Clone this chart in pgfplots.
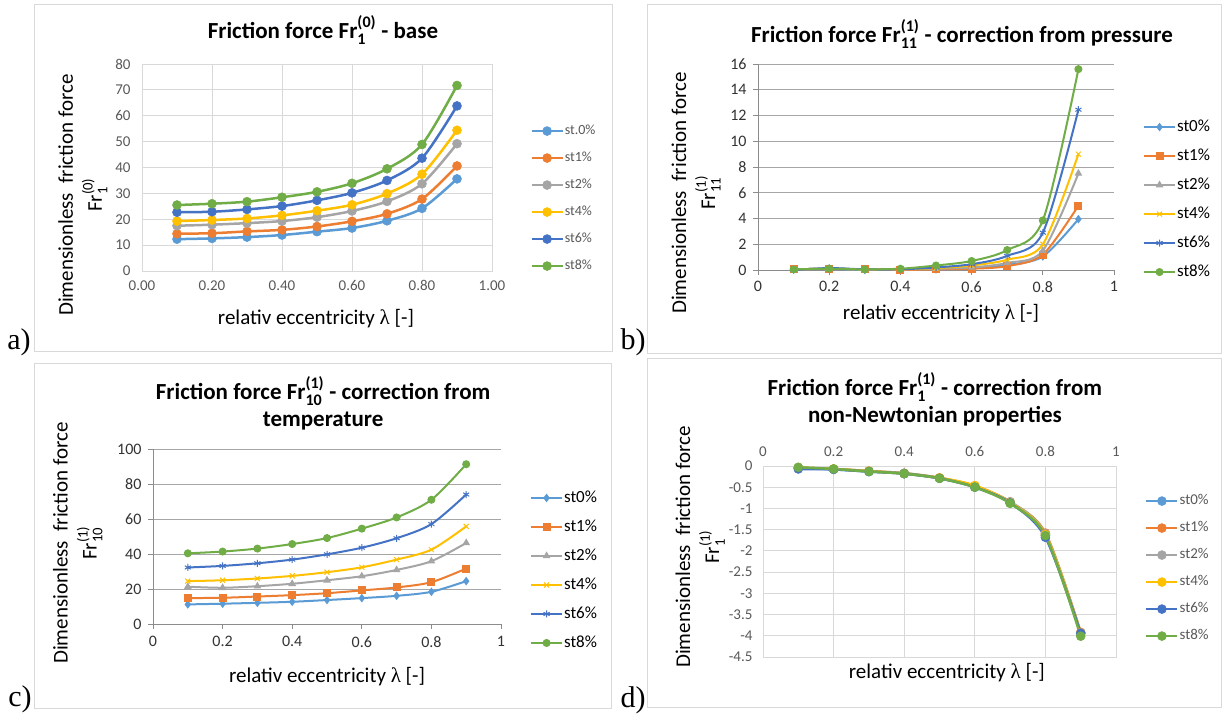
\documentclass[border=0pt]{standalone}
\usepackage{fontspec}
\setmainfont{Carlito}
\newfontfamily\serif{Liberation Serif}
\usepackage{amsmath}
\usepackage{pgfplots}
\pgfplotsset{compat=1.18}

\definecolor{sA}{HTML}{5B9BD5}
\definecolor{sB}{HTML}{ED7D31}
\definecolor{sC}{HTML}{A5A5A5}
\definecolor{sD}{HTML}{FFC000}
\definecolor{sE}{HTML}{4472C4}
\definecolor{sF}{HTML}{70AD47}
\definecolor{tickgray}{HTML}{595959}
\definecolor{gridgray}{HTML}{D9D9D9}

\newcommand{\lam}{{\serif λ}}
\newcommand{\Fr}[2]{Fr$_{\text{#1}}^{\text{#2}}$}

\pgfplotsset{
  panel/.style={
    scale only axis, xmin=0, xmax=1, xtick={0,0.2,...,1},
    /pgf/number format/assume math mode=true,
    tick label style={font=\fontsize{15}{15}\selectfont},
    label style={font=\fontsize{21}{29}\selectfont, align=center},
    title style={font=\bfseries\fontsize{23}{27}\selectfont, align=center, anchor=center},
    xlabel style={anchor=center},
    ylabel style={anchor=center},
    legend cell align=left,
    legend style={draw=none, fill=none, inner sep=0pt, anchor=west,
      font=\fontsize{14}{14}\selectfont,
      nodes={inner sep=1pt, text height=10pt, text depth=3pt}},
    legend image code/.code={\draw[mark repeat=2,mark phase=2,##1] plot coordinates {(0pt,0pt)(15.5pt,0pt)(31pt,0pt)};},
    every axis plot/.append style={line width=2.5pt, smooth},
  },
  boxgrid/.style={
    grid=major, grid style={draw=gridgray, line width=1pt},
    axis line style={draw=gridgray, line width=1pt},
    major tick length=0pt,
    tick label style={color=tickgray},
    legend style={text=tickgray},
  },
  linegrid/.style={
    ymajorgrids, grid style={draw=black!35, line width=0.8pt},
    axis x line*=bottom, axis y line*=left,
    axis line style={-, draw=black!45, line width=0.8pt},
    tick align=outside, major tick length=5pt,
    tick style={draw=black!45, line width=0.8pt},
    tick label style={color=black!80, font=\fontsize{16}{16}\selectfont},
    legend style={font=\fontsize{17}{17}\selectfont, nodes={text height=12pt, text depth=3pt}},
  },
  dot/.style={color=#1, mark=*, mark size=4.5pt, mark options={solid, line width=0.5pt}},
  mk/.style 2 args={color=#1, mark=#2, mark size=3.5pt, mark options={solid, line width=1pt}},
}

\begin{document}
\begin{tikzpicture}[x=1pt,y=1pt]
\path[use as bounding box] (0,0) rectangle (1222,716);
\fill[white] (0,0) rectangle (1222,716);
\draw[gridgray, line width=1pt] (34,365) rectangle (612,711);
\draw[gridgray, line width=1pt] (647,363) rectangle (1221,711);
\draw[gridgray, line width=1pt] (34,8) rectangle (611,353);
\draw[gridgray, line width=1pt] (647,9) rectangle (1221,358);

\node[font=\serif\fontsize{30}{30}\selectfont] at (19,374) {a)};
\node[font=\serif\fontsize{30}{30}\selectfont] at (633,374) {b)};
\node[font=\serif\fontsize{30}{30}\selectfont] at (20,17) {c)};
\node[font=\serif\fontsize{30}{30}\selectfont] at (633,16) {d)};

% ---------- a) base
\begin{axis}[panel, boxgrid,
  at={(142pt,445pt)}, anchor=south west, width=350pt, height=207pt,
  ymin=0, ymax=80, ytick={0,10,...,80},
  xticklabel style={/pgf/number format/fixed, /pgf/number format/fixed zerofill, /pgf/number format/precision=2, yshift=-6pt},
  yticklabel style={xshift=-8pt},
  title={Friction force \Fr{1}{(0)} - base},
  title style={at={(rel axis cs:0.517,1.135)}},
  xlabel={relativ eccentricity \lam\ [-]},
  xlabel style={at={(rel axis cs:0.497,-0.232)}},
  ylabel={Dimensionless\ \ friction force\\\Fr{1}{(0)}},
  ylabel style={at={(rel axis cs:-0.169,0.367)}},
  legend style={at={(rel axis cs:1.109,0.350)}, row sep=12pt},
]
\addplot[dot=sA] coordinates {(0.1,12.3)(0.2,12.6)(0.3,13.1)(0.4,13.9)(0.5,15.2)(0.6,16.6)(0.7,19.4)(0.8,24.2)(0.9,35.6)};
\addlegendentry{st.0\%}
\addplot[dot=sB] coordinates {(0.1,14.4)(0.2,14.6)(0.3,15.3)(0.4,15.9)(0.5,17.2)(0.6,19.2)(0.7,22.1)(0.8,27.8)(0.9,40.6)};
\addlegendentry{st1\%}
\addplot[dot=sC] coordinates {(0.1,17.5)(0.2,17.9)(0.3,18.5)(0.4,19.3)(0.5,20.8)(0.6,23.2)(0.7,26.9)(0.8,33.7)(0.9,49.2)};
\addlegendentry{st2\%}
\addplot[dot=sD] coordinates {(0.1,19.3)(0.2,19.7)(0.3,20.3)(0.4,21.5)(0.5,23.3)(0.6,25.6)(0.7,29.9)(0.8,37.4)(0.9,54.4)};
\addlegendentry{st4\%}
\addplot[dot=sE] coordinates {(0.1,22.7)(0.2,22.9)(0.3,23.8)(0.4,25.1)(0.5,27.3)(0.6,30.2)(0.7,35.0)(0.8,43.6)(0.9,63.8)};
\addlegendentry{st6\%}
\addplot[dot=sF] coordinates {(0.1,25.5)(0.2,26.0)(0.3,26.8)(0.4,28.5)(0.5,30.6)(0.6,33.9)(0.7,39.5)(0.8,48.9)(0.9,71.7)};
\addlegendentry{st8\%}
\end{axis}

% ---------- b) pressure
\begin{axis}[panel, linegrid,
  at={(758pt,446pt)}, anchor=south west, width=356pt, height=206pt,
  ymin=0, ymax=16, ytick={0,2,...,16},
  xticklabel style={yshift=-3pt},
  yticklabel style={xshift=-3pt},
  title={Friction force \Fr{11}{(1)} - correction from pressure},
  title style={at={(rel axis cs:0.573,1.117)}},
  xlabel={relativ eccentricity \lam\ [-]},
  xlabel style={at={(rel axis cs:0.514,-0.214)}},
  ylabel={Dimensionless\ \ friction force\\\Fr{11}{(1)}},
  ylabel style={at={(rel axis cs:-0.174,0.374)}},
  legend style={at={(rel axis cs:1.081,0.342)}, row sep=12pt},
  every axis plot/.append style={line width=2pt},
]
\addplot[mk={sA}{diamond*}] coordinates {(0.1,0.05)(0.2,0.1)(0.3,0.0)(0.4,0.05)(0.5,0.05)(0.6,0.15)(0.7,0.4)(0.8,1.05)(0.9,3.95)};
\addlegendentry{st0\%}
\addplot[mk={sB}{square*}] coordinates {(0.1,0.05)(0.2,0.1)(0.3,0.05)(0.4,0.0)(0.5,0.05)(0.6,0.1)(0.7,0.3)(0.8,1.2)(0.9,5.0)};
\addlegendentry{st1\%}
\addplot[mk={sC}{triangle*}] coordinates {(0.1,0.05)(0.2,0.1)(0.3,0.05)(0.4,0.05)(0.5,0.1)(0.6,0.2)(0.7,0.55)(0.8,1.5)(0.9,7.5)};
\addlegendentry{st2\%}
\addplot[mk={sD}{x}] coordinates {(0.1,0.05)(0.2,0.1)(0.3,0.05)(0.4,0.05)(0.5,0.15)(0.6,0.35)(0.7,0.8)(0.8,2.0)(0.9,9.0)};
\addlegendentry{st4\%}
\addplot[mk={sE}{asterisk}] coordinates {(0.1,0.0)(0.2,0.15)(0.3,0.05)(0.4,0.05)(0.5,0.2)(0.6,0.45)(0.7,1.1)(0.8,2.9)(0.9,12.45)};
\addlegendentry{st6\%}
\addplot[mk={sF}{*}] coordinates {(0.1,0.05)(0.2,0.1)(0.3,0.05)(0.4,0.1)(0.5,0.35)(0.6,0.7)(0.7,1.55)(0.8,3.85)(0.9,15.6)};
\addlegendentry{st8\%}
\end{axis}

% ---------- c) temperature
\begin{axis}[panel, linegrid,
  at={(153pt,92pt)}, anchor=south west, width=348pt, height=175pt,
  ymin=0, ymax=100, ytick={0,20,...,100},
  xticklabel style={yshift=-4pt},
  yticklabel style={xshift=-3pt},
  title={Friction force \Fr{10}{(1)} - correction from\\temperature},
  title style={at={(rel axis cs:0.489,1.229)}},
  xlabel={relativ eccentricity \lam\ [-]},
  xlabel style={at={(rel axis cs:0.5,-0.303)}},
  ylabel={Dimensionless\ \ friction force\\\Fr{10}{(1)}},
  ylabel style={at={(rel axis cs:-0.216,0.463)}},
  legend style={at={(rel axis cs:1.083,0.306)}, row sep=12pt},
  every axis plot/.append style={line width=2pt},
]
\addplot[mk={sA}{diamond*}] coordinates {(0.1,11.2)(0.2,11.6)(0.3,12.1)(0.4,12.7)(0.5,13.7)(0.6,14.8)(0.7,16.1)(0.8,18.4)(0.9,24.5)};
\addlegendentry{st0\%}
\addplot[mk={sB}{square*}] coordinates {(0.1,14.8)(0.2,15.0)(0.3,15.7)(0.4,16.5)(0.5,17.6)(0.6,19.2)(0.7,20.9)(0.8,23.9)(0.9,31.7)};
\addlegendentry{st1\%}
\addplot[mk={sC}{triangle*}] coordinates {(0.1,21.3)(0.2,20.7)(0.3,21.6)(0.4,23.0)(0.5,25.0)(0.6,27.3)(0.7,30.9)(0.8,35.9)(0.9,46.3)};
\addlegendentry{st2\%}
\addplot[mk={sD}{x}] coordinates {(0.1,24.5)(0.2,25.0)(0.3,26.0)(0.4,27.5)(0.5,29.6)(0.6,32.4)(0.7,36.8)(0.8,42.5)(0.9,55.8)};
\addlegendentry{st4\%}
\addplot[mk={sE}{asterisk}] coordinates {(0.1,32.3)(0.2,33.2)(0.3,34.7)(0.4,36.8)(0.5,39.8)(0.6,43.6)(0.7,49.0)(0.8,57.1)(0.9,74.0)};
\addlegendentry{st6\%}
\addplot[mk={sF}{*}] coordinates {(0.1,40.4)(0.2,41.4)(0.3,43.1)(0.4,45.7)(0.5,49.1)(0.6,54.5)(0.7,60.9)(0.8,71.0)(0.9,91.3)};
\addlegendentry{st8\%}
\end{axis}

% ---------- d) non-Newtonian
\begin{axis}[panel, boxgrid,
  at={(763pt,59pt)}, anchor=south west, width=353pt, height=191pt,
  ymin=-4.5, ymax=0, ytick={-4.5,-4,...,0},
  xticklabel pos=upper,
  xticklabel style={yshift=6pt},
  yticklabel style={xshift=-7pt},
  title={Friction force \Fr{1}{(1)} - correction from\\non-Newtonian properties},
  title style={at={(rel axis cs:0.487,1.319)}},
  xlabel={relativ eccentricity \lam\ [-]},
  xlabel style={at={(rel axis cs:0.521,-0.084)}},
  ylabel={Dimensionless\ \ friction force\\\Fr{1}{(1)}},
  ylabel style={at={(rel axis cs:-0.178,0.576)}},
  legend style={at={(rel axis cs:1.082,0.463)}, row sep=12pt, font=\fontsize{15}{15}\selectfont},
]
\addplot[dot=sA] coordinates {(0.1,-0.05)(0.2,-0.08)(0.3,-0.13)(0.4,-0.18)(0.5,-0.29)(0.6,-0.49)(0.7,-0.86)(0.8,-1.63)(0.9,-3.95)};
\addlegendentry{st0\%}
\addplot[dot=sB] coordinates {(0.1,-0.04)(0.2,-0.07)(0.3,-0.12)(0.4,-0.17)(0.5,-0.28)(0.6,-0.47)(0.7,-0.85)(0.8,-1.58)(0.9,-3.92)};
\addlegendentry{st1\%}
\addplot[dot=sC] coordinates {(0.1,-0.04)(0.2,-0.07)(0.3,-0.12)(0.4,-0.17)(0.5,-0.28)(0.6,-0.48)(0.7,-0.84)(0.8,-1.60)(0.9,-3.93)};
\addlegendentry{st2\%}
\addplot[dot=sD] coordinates {(0.1,-0.04)(0.2,-0.07)(0.3,-0.12)(0.4,-0.18)(0.5,-0.28)(0.6,-0.46)(0.7,-0.86)(0.8,-1.62)(0.9,-3.94)};
\addlegendentry{st4\%}
\addplot[dot=sE] coordinates {(0.1,-0.07)(0.2,-0.08)(0.3,-0.13)(0.4,-0.18)(0.5,-0.29)(0.6,-0.50)(0.7,-0.87)(0.8,-1.68)(0.9,-3.94)};
\addlegendentry{st6\%}
\addplot[dot=sF] coordinates {(0.1,-0.03)(0.2,-0.07)(0.3,-0.13)(0.4,-0.18)(0.5,-0.29)(0.6,-0.50)(0.7,-0.88)(0.8,-1.64)(0.9,-4.01)};
\addlegendentry{st8\%}
\end{axis}
\end{tikzpicture}
\end{document}
